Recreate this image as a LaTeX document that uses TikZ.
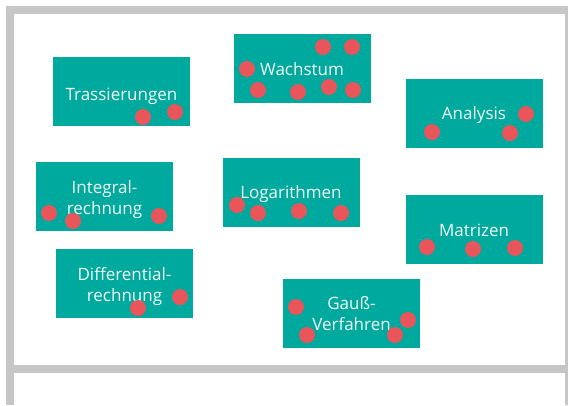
\documentclass[tikz,border=0pt]{standalone}
\usepackage{fontspec}
\setmainfont{Open Sans}
\definecolor{framegray}{RGB}{198,198,198}
\definecolor{topicteal}{RGB}{0,169,157}
\definecolor{markred}{RGB}{232,85,90}
\definecolor{labelwhite}{RGB}{242,250,246}
\begin{document}
\begin{tikzpicture}[x=1pt,y=-1pt,
  topicbox/.style={rectangle, fill=topicteal, draw=none, anchor=north west,
    minimum width=137pt, minimum height=69pt, inner sep=0pt, outer sep=0pt},
  topiclabel/.style={anchor=base, inner sep=0pt, text=labelwhite, align=center,
    font=\fontsize{17}{20.5}\selectfont},
  marker/.style={fill=markred},
  framebar/.style={fill=framegray}]
\useasboundingbox (0,0) rectangle (568,405);

% board frame
\fill[framebar] (6,6) rectangle (568,14);
\fill[framebar] (6,14) rectangle (14,405);
\fill[framebar] (565,14) rectangle (568,405);
\fill[framebar] (14,365) rectangle (565,373);

% topic cards
\node[topicbox] (trass) at (53,57) {};
\node[topicbox] (wachs) at (234,34) {};
\node[topicbox] (analy) at (406,79) {};
\node[topicbox] (integ) at (36,162) {};
\node[topicbox] (logar) at (223,158) {};
\node[topicbox] (matri) at (406,195) {};
\node[topicbox] (diffe) at (56,249) {};
\node[topicbox] (gauss) at (283,279) {};

% card titles (anchor base = baseline of the last line)
\node[topiclabel] (trass-t) at (121.5,100) {Trassierungen};
\node[topiclabel] (wachs-t) at (302,75.5) {Wachstum};
\node[topiclabel] (analy-t) at (474,119.5) {Analysis};
\node[topiclabel] (integ-t) at (104.5,214) {Integral-\\rechnung};
\node[topiclabel] (logar-t) at (291,198.5) {Logarithmen};
\node[topiclabel] (matri-t) at (474,236) {Matrizen};
\node[topiclabel] (diffe-t) at (124.5,301) {Differential-\\rechnung};
\node[topiclabel] (gauss-t) at (351.5,330) {Gauß-\\Verfahren};

% voting dots
\foreach \p in {(143,117),(175,112),
                (247,69),(258,90),(298,92),(323,47),(352,47),(329,87),(353,90),
                (526,114),(432,132),(510,133),
                (49,213),(73,221),(159,216),
                (237,205),(258,213),(299,211),(341,213),
                (427,247),(473,249),(515,248),
                (180,297),(138,308),
                (296,307),(307,335),(408,320),(395,335)}
  \fill[marker] \p circle[radius=8pt];
\end{tikzpicture}
\end{document}
